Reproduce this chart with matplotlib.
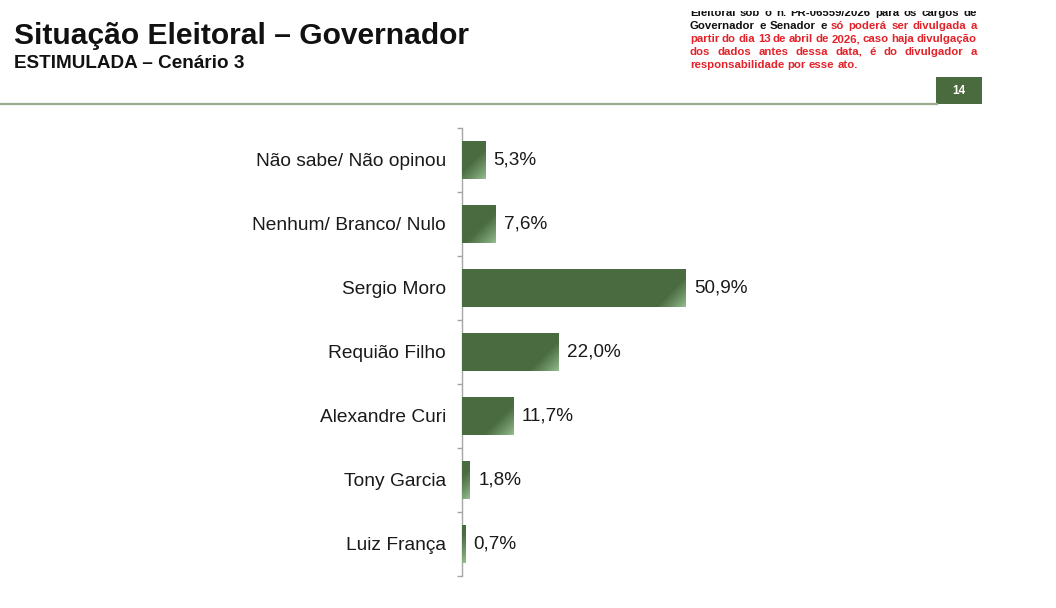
import numpy as np
import matplotlib
matplotlib.use("Agg")
import matplotlib.pyplot as plt
from matplotlib.patches import Rectangle
from matplotlib.colors import to_rgb

categories = ["Não sabe/ Não opinou", "Nenhum/ Branco/ Nulo", "Sergio Moro",
              "Requião Filho", "Alexandre Curi", "Tony Garcia", "Luiz França"]
values = [5.3, 7.6, 50.9, 22.0, 11.7, 1.8, 0.7]
value_labels = ["5,3%", "7,6%", "50,9%", "22,0%", "11,7%", "1,8%", "0,7%"]

title = "Situação Eleitoral – Governador"
subtitle = "ESTIMULADA – Cenário 3"
page_no = "14"
note_lines = [
    [("Eleitoral sob o n. PR-06559/2026 para os cargos de", "black")],
    [("Governador e Senador e", "black"), ("só poderá ser divulgada a", "red")],
    [("partir do dia 13 de abril de 2026, caso haja divulgação", "red")],
    [("dos dados antes dessa data, é do divulgador a", "red")],
    [("responsabilidade por esse ato.", "red")],
]

W, H = 1056, 608
plt.rcParams['font.family'] = ['Liberation Sans', 'DejaVu Sans']
fig = plt.figure(figsize=(W / 100, H / 100), dpi=100)
fig.patch.set_facecolor("white")

DARK = np.array(to_rgb("#4a6b40"))
LIGHT = np.array(to_rgb("#9cc596"))
RED = "#e3222a"

def fx(px):
    return px / W

def fy(py):
    return 1 - py / H

# Axes
ax_left, ax_right = 462, 982
ax_top, ax_bottom = 128, 576
ax = fig.add_axes([fx(ax_left), fy(ax_bottom), (ax_right - ax_left) / W, (ax_bottom - ax_top) / H])
ax.set_facecolor("none")
px_per_unit = 4.4
xmax = (ax_right - ax_left) / px_per_unit
n = len(categories)
bar_h = 0.58
row_px = (ax_bottom - ax_top) / n

ypos = np.arange(n)
bars = ax.barh(ypos, values, height=bar_h, color=to_rgb("#4a6b40"), zorder=2)
for i, (b, v) in enumerate(zip(bars, values)):
    w_px = max(int(round(v * px_per_unit)), 1)
    h_px = int(round(bar_h * row_px))
    xs = np.arange(w_px)[None, :] + 0.5
    ys = np.arange(h_px)[:, None] + 0.5
    d = (w_px - xs) + (h_px - ys)
    t = np.clip(d / 30.0, 0, 1)[..., None] ** 0.8
    img = LIGHT * (1 - t) + DARK * t
    ax.imshow(img, extent=(0, v, i + bar_h / 2, i - bar_h / 2), origin="upper",
              aspect="auto", interpolation="bilinear", zorder=3)
    ax.annotate(value_labels[i], xy=(v, i), xytext=(6, 0), textcoords="offset points",
                ha="left", va="center", fontsize=13.6, color="#1a1a1a")

ax.set_xlim(0, xmax)
ax.set_ylim(n - 0.5, -0.5)
ax.set_yticks(ypos, labels=categories)
ax.set_yticks(np.arange(n + 1) - 0.5, minor=True)
ax.tick_params(axis="y", which="major", length=0, pad=11.5, labelsize=13.8, labelcolor="#1a1a1a")
ax.tick_params(axis="y", which="minor", length=3.6, width=1, color="#a6a6a6", direction="out")
ax.set_xticks([])
for s in ["top", "right", "bottom"]:
    ax.spines[s].set_visible(False)
ax.spines["left"].set_color("#a6a6a6")
ax.spines["left"].set_linewidth(1)

# Header
fig.text(fx(14), fy(44), title, fontsize=21.6, fontweight="bold", color="#111111",
         ha="left", va="baseline")
fig.text(fx(14), fy(68), subtitle, fontsize=13.6, fontweight="bold", color="#111111",
         ha="left", va="baseline")

# Header rule and page box
fig.add_artist(plt.Line2D([0, fx(937)], [fy(104), fy(104)], color="#9aab8e", lw=1.6))
fig.add_artist(Rectangle((fx(936), fy(104)), (982 - 936) / W, (104 - 77) / H,
                         transform=fig.transFigure, facecolor="#4a6b3d", edgecolor="none"))
fig.text(fx(959), fy(91), page_no, fontsize=8.5, fontweight="bold", color="white",
         ha="center", va="center")

# Justified note
renderer = fig.canvas.get_renderer()
note_x0, note_x1 = 690, 977
baselines = [16, 29, 42, 55, 68]
fs_note = 8.2
for li, (segs, base) in enumerate(zip(note_lines, baselines)):
    words = []
    for txt, col in segs:
        for w in txt.split(" "):
            words.append((w, "#111111" if col == "black" else RED))
    widths = []
    for w, col in words:
        t = fig.text(0, 0, w, fontsize=fs_note, fontweight="bold")
        widths.append(t.get_window_extent(renderer=renderer).width)
        t.remove()
    last = li == len(note_lines) - 1
    if last or len(words) == 1:
        space = fig.text(0, 0, "a a", fontsize=fs_note, fontweight="bold")
        sw = space.get_window_extent(renderer=renderer).width
        space.remove()
        aw = fig.text(0, 0, "a", fontsize=fs_note, fontweight="bold")
        a_w = aw.get_window_extent(renderer=renderer).width
        aw.remove()
        gap = sw - 2 * a_w
    else:
        gap = ((note_x1 - note_x0) - sum(widths)) / (len(words) - 1)
    x = note_x0
    for (w, col), wd in zip(words, widths):
        fig.text(fx(x), fy(base), w, fontsize=fs_note, fontweight="bold", color=col,
                 ha="left", va="baseline")
        x += wd + gap

# cover the top part of first note line (cut off in the reference)
fig.add_artist(Rectangle((fx(680), fy(11)), (990 - 680) / W, 11 / H,
                         transform=fig.transFigure, facecolor="white", edgecolor="none", zorder=10))

fig.savefig("out.png", dpi=100)
